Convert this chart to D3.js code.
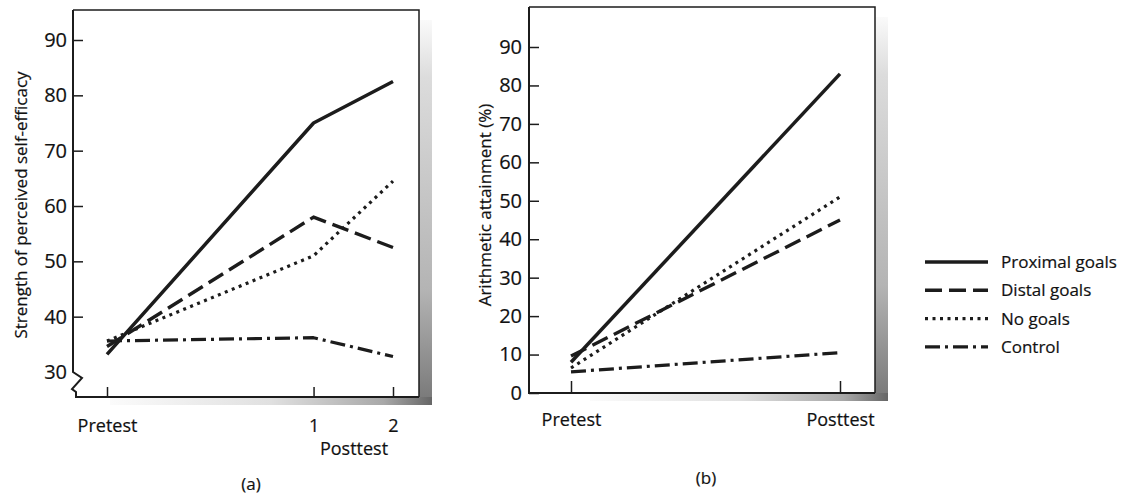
<!DOCTYPE html>
<html>
<head>
<meta charset="utf-8">
<script src="https://cdn.jsdelivr.net/npm/d3@7"></script>
<style>
  body { margin: 0; background: #fff; }
  text { font-family: 'Open Sans', sans-serif; fill: #111; stroke: #111; stroke-width: 0.2px; }
</style>
</head>
<body>
<div id="chart"></div>
<script>
// groups and their line styles in both panels
let groups = ['Proximal goals', 'Distal goals', 'No goals', 'Control']

// panel (a): self-efficacy, pretest and two posttests
let testsA = ['Pretest', '1', '2']
let testTimeA = [0, 2.6, 3.6]
let efficacyProximal = [33.2, 75, 82.5]
let efficacyDistal = [34.6, 58, 52.5]
let efficacyNoGoals = [35.6, 51, 64.5]
let efficacyControl = [35.6, 36.2, 32.8]
let ticksA = [30, 40, 50, 60, 70, 80, 90]

// panel (b): arithmetic attainment
let testsB = ['Pretest', 'Posttest']
let attainProximal = [8, 83]
let attainDistal = [9.6, 45]
let attainNoGoals = [6.5, 51]
let attainControl = [5.5, 10.5]
let ticksB = [0, 10, 20, 30, 40, 50, 60, 70, 80, 90]

let dashes = ['none', '17,7', '3,4.5', '15,5,3,5']
let widths = [3.5, 3.4, 3.2, 3.2]
let ink = '#1c1c1c'

let svg = d3.select('#chart').append('svg').attr('width', 1144).attr('height', 497)
let defs = svg.append('defs')

function grad (id, x2, y2, stops) {
  let g = defs.append('linearGradient').attr('id', id)
      .attr('x1', 0).attr('y1', 0).attr('x2', x2).attr('y2', y2)
  stops.forEach((s) => g.append('stop').attr('offset', s[0]).attr('stop-color', s[1]))
}
grad('shadeRight', 0, 1, [[0, '#fafafa'], [0.15, '#dcdcdc'], [0.7, '#b4b4b4'], [1, '#777']])
grad('shadeBottom', 1, 0, [[0, '#fbfbfb'], [0.5, '#e0e0e0'], [0.85, '#a8a8a8'], [1, '#666']])

function shadow (top, right, bottom, dx, dy, bx) {
  svg.append('rect').attr('x', right).attr('y', top + 10).attr('width', dx).attr('height', bottom - top - 10 + dy)
      .attr('fill', 'url(#shadeRight)')
  svg.append('rect').attr('x', bx).attr('y', bottom).attr('width', right + dx - bx).attr('height', dy)
      .attr('fill', 'url(#shadeBottom)')
}

function styleAxis (g, size) {
  g.select('.domain').remove()
  g.selectAll('.tick line').attr('stroke', ink).attr('stroke-width', 1.5)
  g.selectAll('.tick text').attr('font-size', size).attr('font-family', "'Open Sans', sans-serif")
}

// ---------- panel (a)
let xA = d3.scaleLinear().domain([0, 3.6]).range([107, 393])
let yA = d3.scaleLinear().domain([30, 90]).range([372, 40])
let frameA = { left: 73, top: 10, right: 419, bottom: 397 }

shadow(frameA.top, frameA.right, frameA.bottom, 13, 8, 110)

svg.append('path')
    .attr('d', `M${frameA.left},${frameA.top}H${frameA.right}V${frameA.bottom}`)
    .attr('fill', 'none').attr('stroke', ink).attr('stroke-width', 1.5)
// left axis with the break mark, then the base line
let y30 = yA(30)
svg.append('path')
    .attr('d', `M${frameA.left},${frameA.top}V${y30}L${frameA.left + 9},${y30 + 6}L${frameA.left - 1},${y30 + 17}L${frameA.left + 3},${y30 + 20}V${frameA.bottom}H${frameA.right}`)
    .attr('fill', 'none').attr('stroke', ink).attr('stroke-width', 2)

let axA = svg.append('g').attr('transform', `translate(${frameA.left},0)`)
    .call(d3.axisLeft(yA).tickValues(ticksA).tickSize(-10).tickPadding(6))
styleAxis(axA, 20)
axA.selectAll('.tick').filter((d) => d === 30).select('line').attr('x2', 0)

let bxA = svg.append('g').attr('transform', `translate(0,${frameA.bottom})`)
    .call(d3.axisBottom(xA).tickValues(testTimeA).tickFormat((d, i) => testsA[i]).tickSize(-10).tickPadding(22))
styleAxis(bxA, 18)

svg.append('text').attr('x', 354).attr('y', 455).attr('text-anchor', 'middle')
    .attr('font-size', 18).text('Posttest')
svg.append('text').attr('x', 251).attr('y', 490).attr('text-anchor', 'middle')
    .attr('font-size', 17).text('(a)')
svg.append('text').attr('transform', 'translate(27,205) rotate(-90)').attr('text-anchor', 'middle')
    .attr('font-size', 17).text('Strength of perceived self-efficacy')

let seriesA = [efficacyProximal, efficacyDistal, efficacyNoGoals, efficacyControl]
let lineA = d3.line().x((d, i) => xA(testTimeA[i])).y((d) => yA(d))
svg.append('g').selectAll('path').data(seriesA).enter().append('path')
    .attr('d', lineA)
    .attr('fill', 'none').attr('stroke', ink)
    .attr('stroke-width', (d, i) => widths[i])
    .attr('stroke-dasharray', (d, i) => dashes[i])
    .attr('stroke-linejoin', 'round')

// ---------- panel (b)
let xB = d3.scalePoint().domain(testsB).range([571, 840])
let yB = d3.scaleLinear().domain([0, 90]).range([393, 47])
let frameB = { left: 529, top: 7, right: 875, bottom: 393 }

shadow(frameB.top, frameB.right, frameB.bottom, 13, 8, 590)

svg.append('path')
    .attr('d', `M${frameB.left},${frameB.top}H${frameB.right}V${frameB.bottom}`)
    .attr('fill', 'none').attr('stroke', ink).attr('stroke-width', 1.5)
svg.append('path')
    .attr('d', `M${frameB.left},${frameB.top}V${frameB.bottom}H${frameB.right}`)
    .attr('fill', 'none').attr('stroke', ink).attr('stroke-width', 2)

let axB = svg.append('g').attr('transform', `translate(${frameB.left},0)`)
    .call(d3.axisLeft(yB).tickValues(ticksB).tickSize(-10).tickPadding(7))
styleAxis(axB, 20)
let bxB = svg.append('g').attr('transform', `translate(0,${frameB.bottom})`)
    .call(d3.axisBottom(xB).tickSize(-12).tickPadding(20))
styleAxis(bxB, 18)

svg.append('text').attr('x', 706).attr('y', 484).attr('text-anchor', 'middle')
    .attr('font-size', 17).text('(b)')
svg.append('text').attr('transform', 'translate(491,205) rotate(-90)').attr('text-anchor', 'middle')
    .attr('font-size', 17).text('Arithmetic attainment (%)')

let seriesB = [attainProximal, attainDistal, attainNoGoals, attainControl]
let lineB = d3.line().x((d, i) => xB(testsB[i])).y((d) => yB(d))
svg.append('g').selectAll('path').data(seriesB).enter().append('path')
    .attr('d', lineB)
    .attr('fill', 'none').attr('stroke', ink)
    .attr('stroke-width', (d, i) => widths[i])
    .attr('stroke-dasharray', (d, i) => dashes[i])

// ---------- legend
let legend = svg.append('g').attr('transform', 'translate(925,262)')
let rows = legend.selectAll('g').data(groups).enter().append('g')
    .attr('transform', (d, i) => `translate(0,${i * 28.3})`)
rows.append('line').attr('x1', 0).attr('x2', 63).attr('y1', 0).attr('y2', 0)
    .attr('stroke', ink)
    .attr('stroke-width', (d, i) => widths[i])
    .attr('stroke-dasharray', (d, i) => dashes[i])
rows.append('text').attr('x', 76).attr('dy', '0.35em').attr('font-size', 17).text((d) => d)
</script>
</body>
</html>
